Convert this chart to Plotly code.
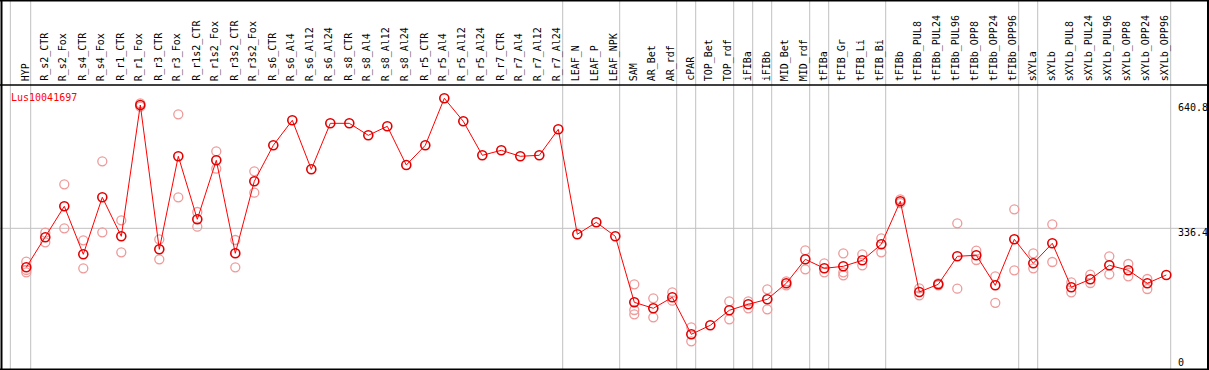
import plotly.graph_objects as go

W, H = 1209, 370

categories = [
    "HYP", "R_s2_CTR", "R_s2_Fox", "R_s4_CTR", "R_s4_Fox", "R_r1_CTR", "R_r1_Fox",
    "R_r3_CTR", "R_r3_Fox", "R_r1s2_CTR", "R_r1s2_Fox", "R_r3s2_CTR", "R_r3s2_Fox",
    "R_s6_CTR", "R_s6_Al4", "R_s6_Al12", "R_s6_Al24", "R_s8_CTR", "R_s8_Al4",
    "R_s8_Al12", "R_s8_Al24", "R_r5_CTR", "R_r5_Al4", "R_r5_Al12", "R_r5_Al24",
    "R_r7_CTR", "R_r7_Al4", "R_r7_Al12", "R_r7_Al24", "LEAF_N", "LEAF_P", "LEAF_NPK",
    "SAM", "AR_Bet", "AR_rdf", "cPAR", "TOP_Bet", "TOP_rdf", "iFIBa", "iFIBb",
    "MID_Bet", "MID_rdf", "tFIBa", "tFIB_Gr", "tFIB_Li", "tFIB_Bi", "tFIBb",
    "tFIBb_PUL8", "tFIBb_PUL24", "tFIBb_PUL96", "tFIBb_OPP8", "tFIBb_OPP24",
    "tFIBb_OPP96", "sXYLa", "sXYLb", "sXYLb_PUL8", "sXYLb_PUL24", "sXYLb_PUL96",
    "sXYLb_OPP8", "sXYLb_OPP24", "sXYLb_OPP96",
]

means = [
    245.1, 315.3, 387.9, 275.5, 409.0, 317.7, 625.1,
    287.2, 505.0, 357.5, 495.6, 277.9, 446.4,
    530.7, 589.3, 474.5, 582.2, 582.2, 554.1,
    575.2, 484.6, 530.7, 640.8, 586.9, 507.3,
    519.0, 505.0, 507.3, 568.2, 322.4, 350.4, 317.7,
    163.1, 149.1, 174.8, 88.2, 109.3, 144.4, 158.5, 170.2,
    207.6, 263.8, 242.7, 247.4, 261.5, 298.9, 399.6,
    187.3, 205.3, 270.8, 273.2, 202.9,
    310.6, 254.5, 301.3, 198.3, 217.0, 249.8,
    238.1, 207.6, 227.1,
]

replicates = [
    [258.2, 238.8, 233.4], [326.1, 303.6], [439.4, 336.4], [308.3, 242.7], [493.3, 327.0],
    [355.1, 280.2], [629.1, 621.1], [310.6, 263.8], [603.3, 409.0], [374.6, 340.1],
    [516.7, 475.9], [309.0, 245.1], [469.9, 419.8],
    [], [], [], [], [], [], [], [], [], [], [], [], [], [], [], [], [], [], [],
    [205.3, 145.1, 135.0], [172.5, 128.0], [186.5, 166.9], [104.6, 71.8], [],
    [165.5, 123.3], [165.5, 149.1], [193.6, 146.7],
    [202.9, 212.0], [284.9, 240.4], [254.5, 233.4], [277.9, 233.4, 226.4],
    [275.5, 249.8], [313.0, 280.2], [404.3, 395.6],
    [195.9, 179.5], [207.6, 203.0], [348.1, 195.0], [283.9, 262.2], [224.0, 161.9],
    [380.9, 238.1], [277.9, 242.7], [345.8, 257.5], [210.0, 186.5], [227.8, 208.3],
    [270.8, 228.7], [252.8, 224.0], [217.7, 194.3], [],
]

# group separators: drawn just after these category indices
separators_after = [-1, 0, 28, 31, 34, 35, 37, 38, 39, 41, 42, 45, 52, 53, 60]

y_ticks = ["640.8", "336.4", "0"]
series_name = "Lus10041697"
ref_value = 336.4

# pixel geometry
x0_px, step_px = 26.3, 19.0
x_range = [(0 - x0_px) / step_px, (W - x0_px) / step_px]
top_px, bot_px = 85, 369
px_per_unit = 0.4271
ref_px = 228.3
y_range = [ref_value + (ref_px - bot_px) / px_per_unit, ref_value + (ref_px - top_px) / px_per_unit]

idx = list(range(len(categories)))
rx, ry = [], []
for i, reps in enumerate(replicates):
    for v in reps:
        rx.append(i)
        ry.append(v)

fig = go.Figure()
fig.add_trace(go.Scatter(
    x=rx, y=ry, mode="markers",
    marker=dict(symbol="circle-open", size=9, color="#EE9A9A", line=dict(width=1.3, color="#EE9A9A")),
    hoverinfo="skip", showlegend=False,
))
fig.add_trace(go.Scatter(
    x=idx, y=means, mode="lines+markers",
    line=dict(color="#FF0000", width=1),
    marker=dict(symbol="circle-open", size=9, color="#E00000", line=dict(width=1.6, color="#E00000")),
    showlegend=False, text=categories,
))

shapes = []
for s in separators_after:
    xv = s + 4.4 / step_px if s >= 0 else -0.84
    shapes.append(dict(type="line", xref="x", yref="paper", x0=xv, x1=xv, y0=0, y1=1,
                       line=dict(color="#C0C0C0", width=1), layer="below"))
shapes.append(dict(type="line", xref="paper", yref="y", x0=0, x1=1, y0=ref_value, y1=ref_value,
                   line=dict(color="#C0C0C0", width=1), layer="below"))

def py(p):
    return 1 - p / H

def pxp(p):
    return p / W

black = dict(color="black", width=2)
shapes += [
    dict(type="line", xref="paper", yref="paper", x0=0, x1=1, y0=py(0.5), y1=py(0.5), line=black),
    dict(type="line", xref="paper", yref="paper", x0=0, x1=1, y0=py(85), y1=py(85), line=dict(color="black", width=1.5)),
    dict(type="line", xref="paper", yref="paper", x0=0, x1=1, y0=py(369.5), y1=py(369.5), line=black),
    dict(type="line", xref="paper", yref="paper", x0=pxp(1.5), x1=pxp(1.5), y0=0, y1=1, line=black),
    dict(type="line", xref="paper", yref="paper", x0=pxp(1208), x1=pxp(1208), y0=0, y1=1, line=black),
]

mono = "DejaVu Sans Mono"
annotations = []
for i, c in enumerate(categories):
    annotations.append(dict(
        x=i - 1.0 / step_px, xref="x", y=py(83), yref="paper", text=c, showarrow=False,
        textangle=-90, xanchor="center", yanchor="bottom",
        font=dict(family=mono, size=10, color="black"),
    ))
annotations.append(dict(x=pxp(9), y=py(97), xref="paper", yref="paper", text=series_name,
                        showarrow=False, xanchor="left", yanchor="middle",
                        font=dict(family=mono, size=10, color="#FF0000")))
for t, ycen in zip(y_ticks, [107.5, 232, 362.5]):
    annotations.append(dict(x=pxp(1176), y=py(ycen), xref="paper", yref="paper", text=t,
                            showarrow=False, xanchor="left", yanchor="middle",
                            font=dict(family=mono, size=10, color="black")))

fig.update_layout(
    width=W, height=H, margin=dict(l=0, r=0, t=0, b=0),
    paper_bgcolor="white", plot_bgcolor="white",
    xaxis=dict(range=x_range, showgrid=False, zeroline=False, showticklabels=False,
               domain=[0, 1], fixedrange=True),
    yaxis=dict(range=y_range, showgrid=False, zeroline=False, showticklabels=False,
               domain=[py(bot_px), py(top_px)], fixedrange=True),
    shapes=shapes, annotations=annotations, showlegend=False,
)

fig.write_html("out.html", config={"displayModeBar": False},
               post_script="document.body.style.margin='0';document.body.style.overflow='hidden';")
